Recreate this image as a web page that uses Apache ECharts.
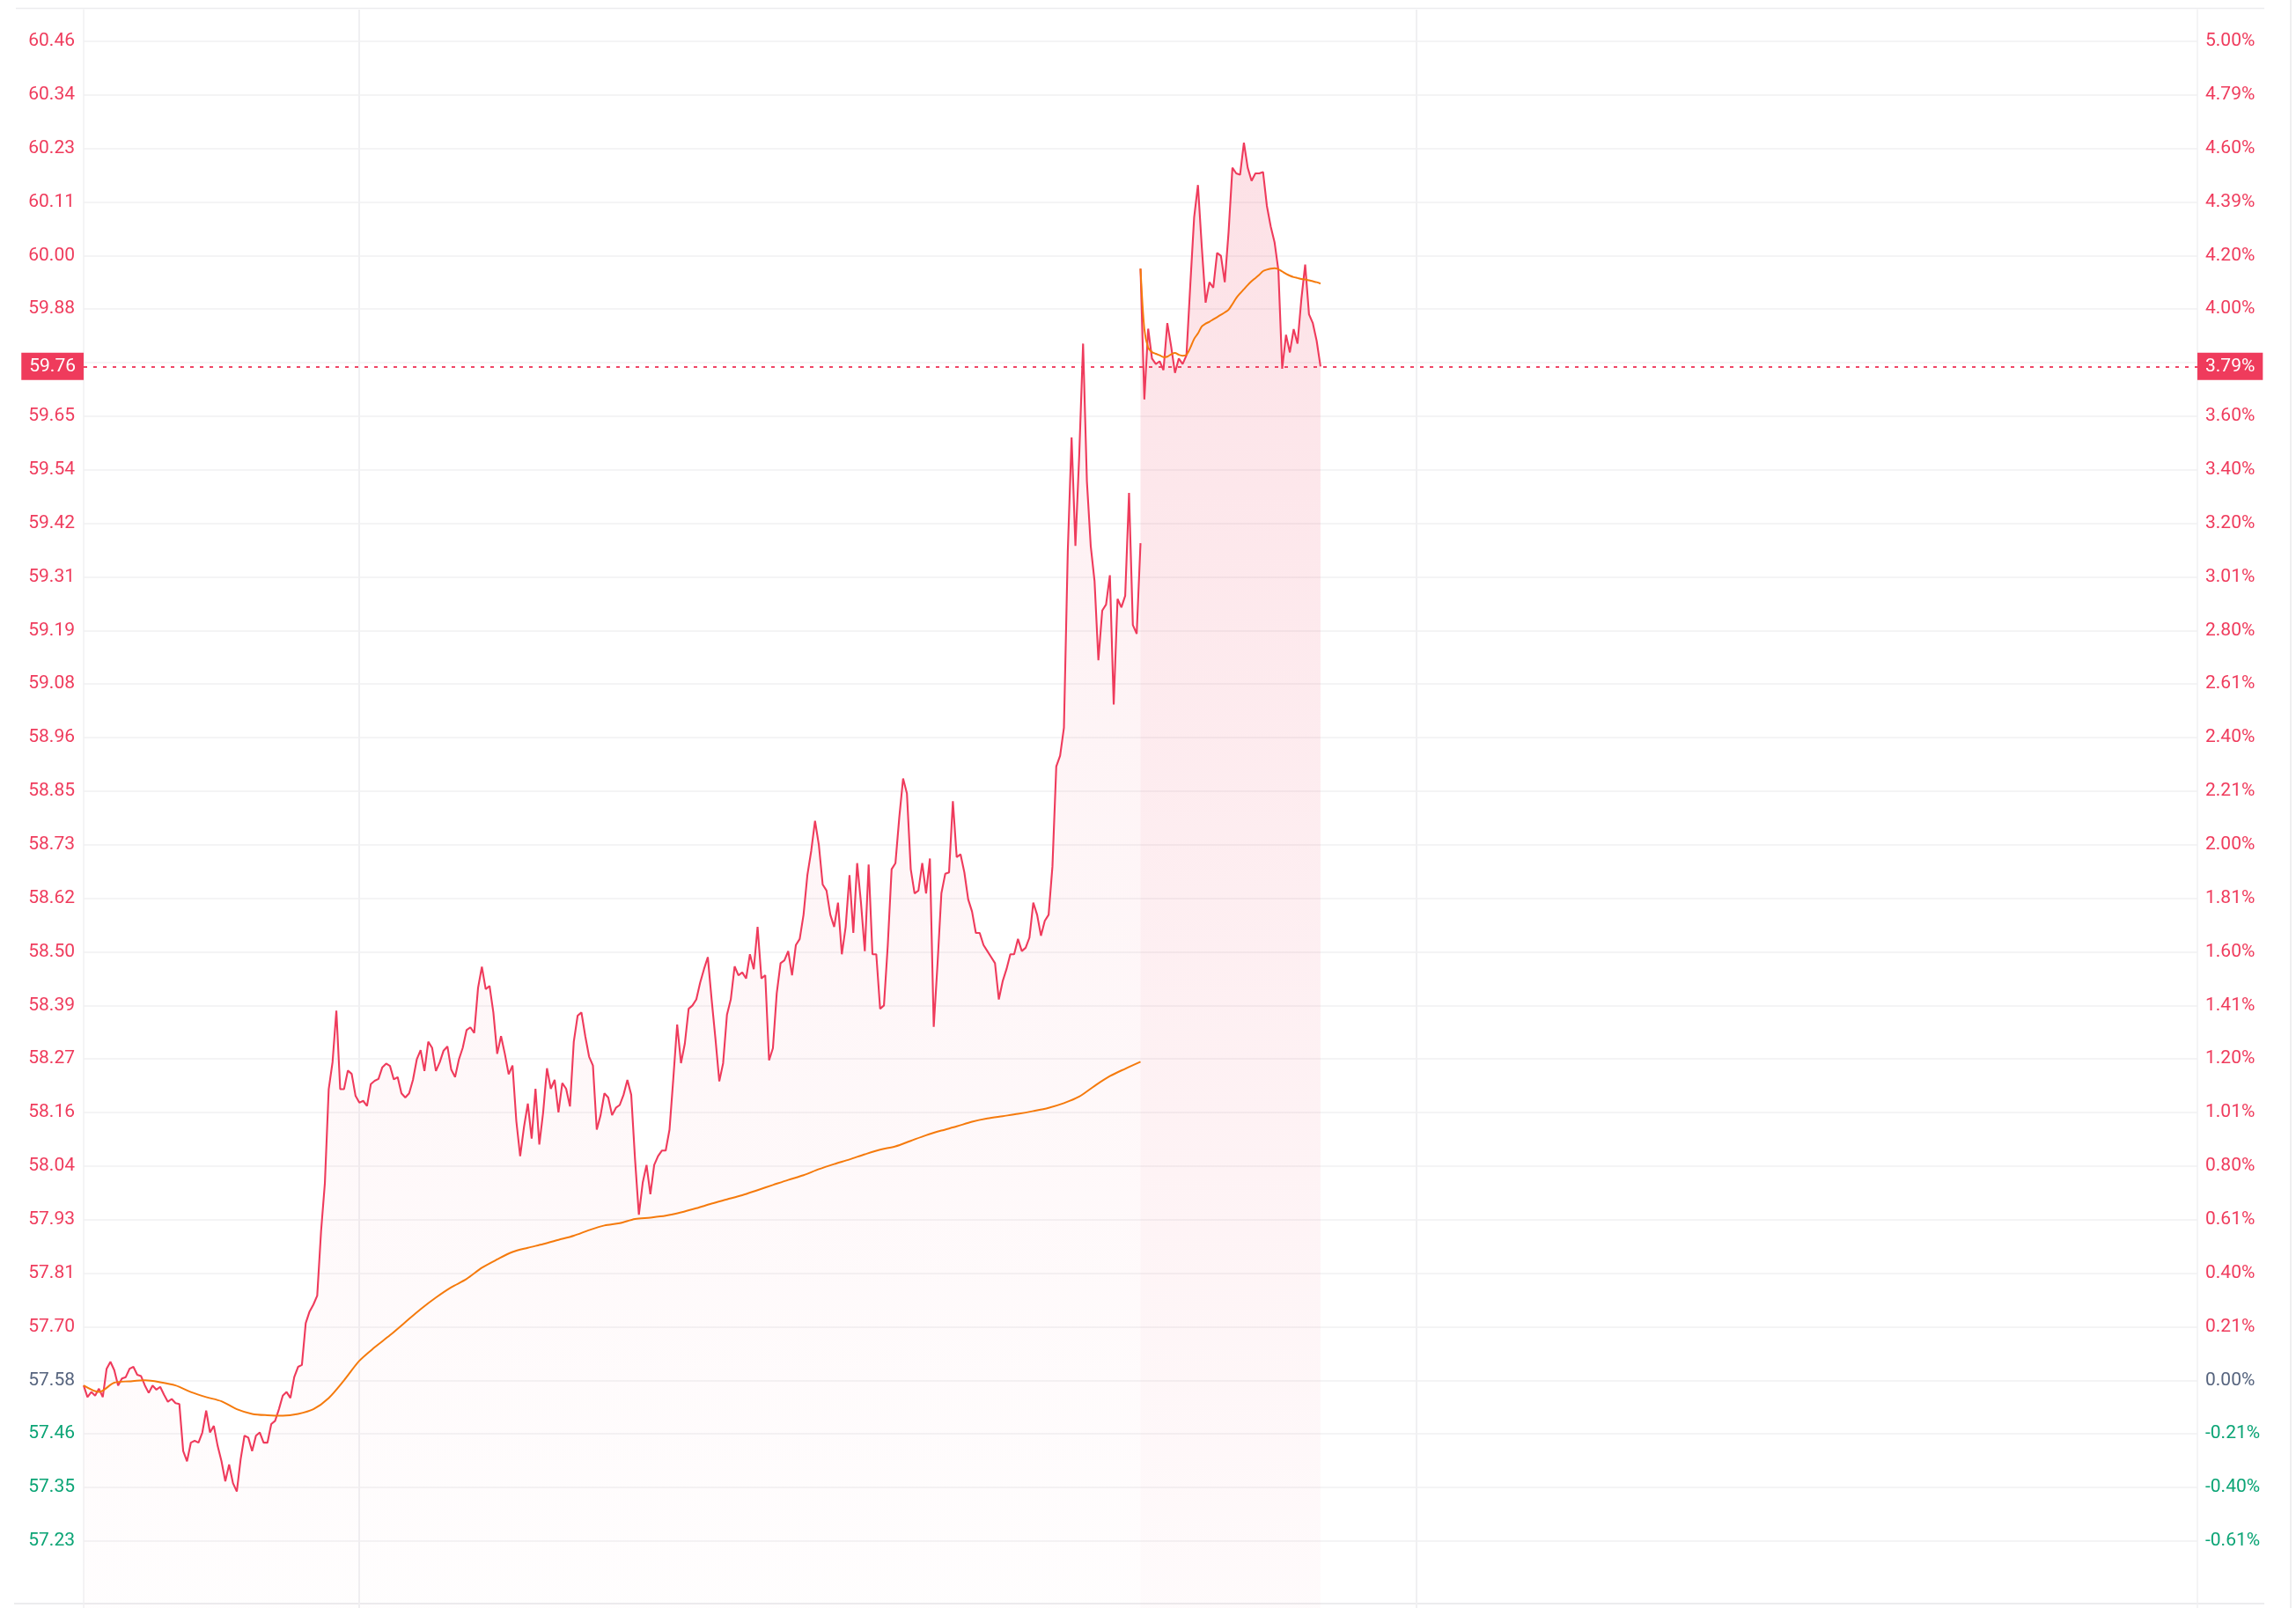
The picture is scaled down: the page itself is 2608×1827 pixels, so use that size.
<!DOCTYPE html>
<html>
<head>
<meta charset="utf-8">
<script src="https://cdn.jsdelivr.net/npm/echarts@6/dist/echarts.min.js"></script>
<style>
html,body{margin:0;padding:0;background:#ffffff;}
#chart{width:2608px;height:1827px;}
</style>
</head>
<body>
<div id="chart"></div>
<script>
// ---------------- DATA ----------------
const basePrice = 57.58;          // previous close (0.00%)
const stepMinutes = 5;            // price sampling
const avgStepMinutes = 20;        // session-1 average sampling
const sessionMinutes = 1380;      // one trading session
const totalMinutes = 2760;        // two sessions on the axis
const dayLines = [360, 1740];     // midnight separators (minutes from axis start)

const leftTickLabels = ['57.23','57.35','57.46','57.58','57.70','57.81','57.93','58.04','58.16','58.27','58.39','58.50','58.62','58.73','58.85','58.96','59.08','59.19','59.31','59.42','59.54','59.65','59.77','59.88','60.00','60.11','60.23','60.34','60.46'];
const rightTickLabels = ['-0.61%','-0.40%','-0.21%','0.00%','0.21%','0.40%','0.61%','0.80%','1.01%','1.20%','1.41%','1.60%','1.81%','2.00%','2.21%','2.40%','2.61%','2.80%','3.01%','3.20%','3.40%','3.60%','3.80%','4.00%','4.20%','4.39%','4.60%','4.79%','5.00%'];
const tickZeroIndex = 3;          // index of 0.00% in the tick label lists
const tickPctStep = 0.2;

const session1Price = [
57.569,57.544,57.555,57.547,57.562,57.544,57.605,57.620,57.602,57.569,
57.584,57.587,57.605,57.609,57.592,57.589,57.569,57.553,57.569,57.560,
57.566,57.549,57.534,57.540,57.531,57.529,57.428,57.406,57.446,57.450,
57.446,57.468,57.515,57.468,57.482,57.439,57.406,57.363,57.399,57.359,
57.341,57.410,57.461,57.457,57.428,57.461,57.468,57.446,57.446,57.486,
57.493,57.518,57.547,57.555,57.542,57.587,57.609,57.613,57.703,57.728,
57.743,57.762,57.900,58.004,58.206,58.264,58.375,58.206,58.206,58.246,
58.239,58.192,58.177,58.181,58.170,58.217,58.224,58.228,58.253,58.261,
58.256,58.227,58.232,58.197,58.188,58.197,58.226,58.270,58.290,58.245,
58.308,58.295,58.245,58.264,58.289,58.298,58.248,58.232,58.270,58.295,
58.333,58.339,58.327,58.424,58.469,58.421,58.428,58.371,58.282,58.320,
58.282,58.238,58.257,58.137,58.062,58.125,58.175,58.100,58.207,58.087,
58.156,58.251,58.207,58.226,58.156,58.219,58.207,58.169,58.308,58.364,
58.371,58.320,58.276,58.257,58.119,58.150,58.197,58.188,58.150,58.166,
58.172,58.194,58.226,58.194,58.055,57.936,58.005,58.043,57.980,58.043,
58.062,58.074,58.074,58.119,58.230,58.345,58.262,58.304,58.379,58.386,
58.399,58.435,58.464,58.490,58.399,58.314,58.223,58.262,58.366,58.399,
58.470,58.451,58.457,58.444,58.496,58.464,58.555,58.444,58.451,58.268,
58.294,58.412,58.477,58.483,58.503,58.451,58.516,58.529,58.581,58.666,
58.718,58.783,58.731,58.646,58.633,58.581,58.555,58.607,58.496,58.555,
58.666,58.542,58.692,58.607,58.503,58.689,58.496,58.496,58.379,58.386,
58.516,58.679,58.692,58.790,58.874,58.842,58.679,58.627,58.633,58.692,
58.627,58.702,58.340,58.477,58.627,58.669,58.672,58.825,58.705,58.711,
58.672,58.614,58.588,58.542,58.542,58.516,58.503,58.490,58.477,58.399,
58.438,58.464,58.496,58.496,58.529,58.503,58.510,58.532,58.607,58.581,
58.536,58.568,58.581,58.685,58.900,58.923,58.983,59.361,59.607,59.374,
59.570,59.809,59.513,59.374,59.298,59.128,59.235,59.248,59.311,59.033,
59.260,59.242,59.267,59.488,59.204,59.185,59.380
];

const session1Avg = [
57.569,57.555,57.575,57.578,57.580,57.576,57.569,57.555,57.544,57.535,
57.518,57.508,57.505,57.504,57.508,57.518,57.542,57.580,57.622,57.651,
57.677,57.705,57.733,57.758,57.780,57.798,57.822,57.840,57.856,57.865,
57.873,57.882,57.891,57.903,57.913,57.918,57.927,57.930,57.934,57.941,
57.950,57.960,57.969,57.978,57.989,58.000,58.011,58.021,58.034,58.045,
58.055,58.066,58.076,58.083,58.095,58.107,58.117,58.126,58.136,58.143,
58.148,58.153,58.159,58.166,58.176,58.190,58.213,58.234,58.250,58.265
];

const session2Price = [
59.970,59.689,59.841,59.777,59.765,59.771,59.752,59.853,59.803,59.746,
59.777,59.765,59.784,59.935,60.080,60.150,60.017,59.897,59.941,59.929,
60.004,59.998,59.941,60.049,60.187,60.175,60.172,60.241,60.187,60.159,
60.175,60.175,60.178,60.105,60.061,60.027,59.967,59.755,59.828,59.790,
59.840,59.809,59.904,59.979,59.872,59.853,59.815,59.760
];

const session2Avg = [
59.970,59.840,59.800,59.791,59.787,59.784,59.780,59.781,59.786,59.789,
59.785,59.783,59.785,59.800,59.819,59.831,59.846,59.852,59.856,59.861,
59.866,59.871,59.876,59.882,59.894,59.907,59.917,59.926,59.935,59.943,
59.950,59.957,59.965,59.968,59.970,59.971,59.969,59.964,59.959,59.955,
59.952,59.950,59.948,59.947,59.945,59.943,59.941,59.938
];

const lastPrice = 59.76;

// ---------------- CONFIG ----------------
const Y_MIN_PCT = -0.850;
const Y_MAX_PCT = 5.118;
const RED = '#ef3b5c';
const GREEN = '#0aa475';
const NEUTRAL = '#56647e';
const ORANGE = '#f57a0c';
const GRID = '#f0f0f2';
const FONT = 'Roboto';

const tickPcts = leftTickLabels.map((_, i) => +((i - tickZeroIndex) * tickPctStep).toFixed(4));
const tickPrices = tickPcts.map(p => basePrice * (1 + p / 100));

function idxFromPct(p) { return Math.round(p / tickPctStep) + tickZeroIndex; }
function colorForIdx(i) { return i > tickZeroIndex ? RED : (i < tickZeroIndex ? GREEN : NEUTRAL); }

const s1 = session1Price.map((v, i) => [i * stepMinutes, v]);
const s1a = session1Avg.map((v, i) => [i * avgStepMinutes, v]);
const s2 = session2Price.map((v, i) => [sessionMinutes + i * stepMinutes, v]);
const s2a = session2Avg.map((v, i) => [sessionMinutes + i * stepMinutes, v]);

const lastPct = ((lastPrice - basePrice) / basePrice * 100).toFixed(2) + '%';

const chart = echarts.init(document.getElementById('chart'), null, {renderer: 'canvas'});

const labelBox = {
  show: true, color: '#ffffff', backgroundColor: RED, fontSize: 21, fontFamily: FONT,
  padding: [4, 9, 4, 9], lineHeight: 23, distance: 0
};

chart.setOption({
  animation: false,
  backgroundColor: '#ffffff',
  grid: {left: 95, right: 112, top: 11, bottom: 0, containLabel: false},
  xAxis: {
    type: 'value', min: 0, max: totalMinutes,
    axisLine: {show: false}, axisLabel: {show: false},
    axisTick: {show: false, customValues: dayLines},
    splitLine: {show: true, lineStyle: {color: GRID, width: 2}}
  },
  yAxis: [
    {
      type: 'value', position: 'left',
      min: basePrice * (1 + Y_MIN_PCT / 100), max: basePrice * (1 + Y_MAX_PCT / 100),
      axisLine: {show: true, lineStyle: {color: GRID, width: 1.5}},
      axisTick: {show: false, customValues: tickPrices},
      axisLabel: {
        customValues: tickPrices, margin: 10, fontSize: 21, fontFamily: FONT,
        formatter: v => leftTickLabels[idxFromPct((v / basePrice - 1) * 100)],
        color: v => colorForIdx(idxFromPct((v / basePrice - 1) * 100))
      },
      splitLine: {show: true, lineStyle: {color: GRID, width: 1.5}}
    },
    {
      type: 'value', position: 'right',
      min: Y_MIN_PCT, max: Y_MAX_PCT,
      axisLine: {show: true, lineStyle: {color: GRID, width: 1.5}},
      axisTick: {show: false, customValues: tickPcts},
      axisLabel: {
        customValues: tickPcts, margin: 9, fontSize: 21, fontFamily: FONT,
        formatter: v => rightTickLabels[idxFromPct(v)],
        color: v => colorForIdx(idxFromPct(v))
      },
      splitLine: {show: false}
    }
  ],
  graphic: [
    {type: 'line', shape: {x1: 18, y1: 9.5, x2: 2572, y2: 9.5}, style: {stroke: '#ececee', lineWidth: 1.5}, silent: true},
    {type: 'line', shape: {x1: 16, y1: 1822, x2: 2572, y2: 1822}, style: {stroke: '#e6e6e8', lineWidth: 1.5}, silent: true},
    {type: 'line', shape: {x1: 2602, y1: 0, x2: 2602, y2: 1827}, style: {stroke: '#e8e8ea', lineWidth: 1.5}, silent: true}
  ],
  series: [
    {
      name: 'price1', type: 'line', data: s1, showSymbol: false, symbol: 'none', z: 3,
      lineStyle: {color: RED, width: 2.1},
      areaStyle: {origin: 'start', color: new echarts.graphic.LinearGradient(0, 0, 0, 1, [
        {offset: 0, color: 'rgba(239,59,92,0.11)'},
        {offset: 1, color: 'rgba(239,59,92,0.012)'}
      ])}
    },
    {
      name: 'avg1', type: 'line', data: s1a, showSymbol: false, symbol: 'none', smooth: 0.3, z: 5,
      lineStyle: {color: ORANGE, width: 2}
    },
    {
      name: 'price2', type: 'line', data: s2, showSymbol: false, symbol: 'none', z: 3,
      lineStyle: {color: RED, width: 2.1},
      areaStyle: {origin: 'start', color: new echarts.graphic.LinearGradient(0, 0, 0, 1, [
        {offset: 0, color: 'rgba(239,59,92,0.22)'},
        {offset: 1, color: 'rgba(239,59,92,0.03)'}
      ])},
      markLine: {
        silent: true, symbol: ['none', 'none'], z: 6,
        lineStyle: {color: RED, type: [4, 7], width: 1.5},
        data: [
          {yAxis: lastPrice, label: Object.assign({}, labelBox, {position: 'start', formatter: lastPrice.toFixed(2)})},
          {yAxis: lastPrice, label: Object.assign({}, labelBox, {position: 'end', formatter: lastPct})}
        ]
      }
    },
    {
      name: 'avg2', type: 'line', data: s2a, showSymbol: false, symbol: 'none', smooth: 0.3, z: 5,
      lineStyle: {color: ORANGE, width: 2}
    }
  ]
});
</script>
</body>
</html>
